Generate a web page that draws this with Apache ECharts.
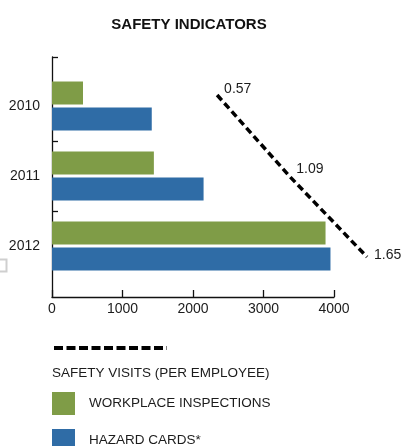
<!DOCTYPE html>
<html>
<head>
<meta charset="utf-8">
<script src="https://cdn.jsdelivr.net/npm/echarts@6/dist/echarts.min.js"></script>
<style>
html,body{margin:0;padding:0;background:#fff;}
#chart{width:403px;height:446px;}
</style>
</head>
<body>
<div id="chart"></div>
<script>
// ---- data ----
var years = ['2010', '2011', '2012'];
var workplaceInspections = [440, 1445, 3880];
var hazardCards = [1415, 2150, 3950];
var safetyVisits = [0.57, 1.09, 1.65];
var xTicks = [0, 1000, 2000, 3000, 4000];

var nameVisits = 'SAFETY VISITS (PER EMPLOYEE)';
var nameInsp = 'WORKPLACE INSPECTIONS';
var nameCards = 'HAZARD CARDS*';

var FONT = 'Liberation Sans';
var TXT = '#1c1c1c';
var GREEN = '#7f9c47';
var BLUE = '#2f6ca6';

var labelOffsets = [[0, -6], [0, -7], [0, -2]];

var barLegend = {
  orient: 'vertical', left: 52, padding: 0,
  itemWidth: 23, itemHeight: 23, icon: 'rect', selectedMode: false,
  textStyle: {fontFamily: FONT, fontSize: 13.5, color: TXT, padding: [0, 0, 0, 9]}
};

var chart = echarts.init(document.getElementById('chart'), null, {renderer: 'canvas'});
chart.setOption({
  animation: false,
  backgroundColor: '#fff',
  textStyle: {fontFamily: FONT, color: TXT},
  title: [
    {text: 'SAFETY INDICATORS', left: 189, top: 17, textAlign: 'center', padding: 0,
     textStyle: {fontFamily: FONT, fontSize: 15, fontWeight: 'bold', color: '#111'}},
    {text: nameVisits, left: 52, top: 366, padding: 0,
     textStyle: {fontFamily: FONT, fontSize: 13.5, fontWeight: 'normal', color: TXT}}
  ],
  legend: [
    {data: [nameVisits], left: 52, top: 342, padding: 0, itemWidth: 113, itemHeight: 12,
     formatter: function () { return ''; },
     itemStyle: {opacity: 0},
     lineStyle: {type: [9, 3.5], width: 4, color: '#000'},
     selectedMode: false},
    Object.assign({data: [nameInsp], top: 392}, barLegend),
    Object.assign({data: [nameCards], top: 429}, barLegend)
  ],
  grid: [
    {left: 52, top: 57, width: 282, height: 240},
    {left: 52, top: 71, width: 282, height: 210},
    {left: 138, top: 95, width: 229, height: 162}
  ],
  xAxis: [
    {gridIndex: 0, type: 'value', min: xTicks[0], max: xTicks[xTicks.length - 1], interval: 1000,
     axisLine: {show: true, onZero: false, lineStyle: {color: '#111', width: 1.3}},
     axisTick: {show: true, inside: true, length: 7, lineStyle: {color: '#111', width: 1.3}},
     axisLabel: {margin: 5, fontFamily: FONT, fontSize: 14, color: TXT,
                 formatter: function (v) { return String(v); }},
     splitLine: {show: false}},
    {gridIndex: 1, type: 'value', min: 0, max: 4000, show: false},
    {gridIndex: 2, type: 'value', min: 0, max: 1.65, show: false}
  ],
  yAxis: [
    {gridIndex: 0, type: 'value', inverse: true, min: -0.7, max: 2.73,
     axisLine: {show: true, onZero: false, lineStyle: {color: '#111', width: 1.3}},
     axisTick: {show: true, inside: true, length: 6, customValues: [-0.7, 0.5, 1.5],
                lineStyle: {color: '#111', width: 1.3}},
     axisLabel: {show: false}, splitLine: {show: false}},
    {gridIndex: 1, type: 'category', inverse: true, data: years,
     axisLine: {show: false}, axisTick: {show: false},
     axisLabel: {margin: 12, fontFamily: FONT, fontSize: 14, color: TXT}},
    {gridIndex: 2, type: 'category', inverse: true, boundaryGap: false, data: years, show: false}
  ],
  series: [
    {name: nameInsp, type: 'bar', xAxisIndex: 1, yAxisIndex: 1, data: workplaceInspections,
     barWidth: 23, barGap: '13%', itemStyle: {color: GREEN}},
    {name: nameCards, type: 'bar', xAxisIndex: 1, yAxisIndex: 1, data: hazardCards,
     barWidth: 23, barGap: '13%', itemStyle: {color: BLUE}},
    {name: nameVisits, type: 'line', xAxisIndex: 2, yAxisIndex: 2,
     data: safetyVisits.map(function (v, i) {
       return {value: [v, years[i]], label: {offset: labelOffsets[i]}};
     }),
     symbol: 'circle', symbolSize: 0.01,
     itemStyle: {color: '#000'},
     lineStyle: {color: '#000', width: 3.5, type: [7, 4]},
     label: {show: true, position: 'right', distance: 7, fontFamily: FONT, fontSize: 14, color: TXT,
             formatter: function (p) { return p.value[0].toFixed(2); }}}
  ],
  graphic: [
    {type: 'rect', left: -8, top: 257, shape: {width: 12, height: 12},
     style: {fill: 'none', stroke: '#cfcfcf', lineWidth: 2}}
  ]
});
</script>
</body>
</html>
